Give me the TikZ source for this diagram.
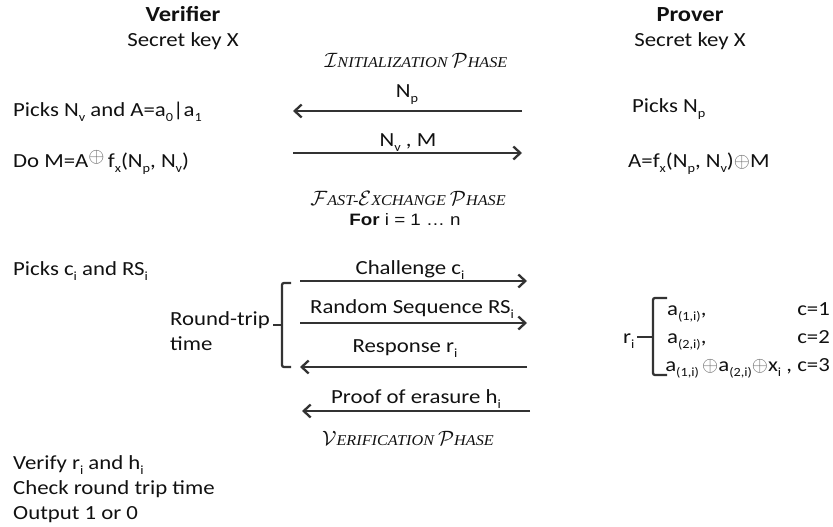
\documentclass[tikz,border=0pt]{standalone}
\usepackage{fontspec}
\usepackage{graphicx}
\setmainfont{Carlito}[FakeStretch=1.14]
\newfontfamily\arialf{Liberation Sans}[FakeStretch=1.14]
\newfontfamily\phasef{Liberation Serif}[FakeStretch=1.08]
\usetikzlibrary{arrows.meta}
\definecolor{txt}{HTML}{111111}
\definecolor{lin}{HTML}{333333}
\newcommand\sbs[1]{\raisebox{-0.28em}{\fontsize{12.5}{13}\selectfont #1}}
\newcommand\bigc[1]{{\fontsize{22.5}{22}\selectfont$\mathcal{#1}$}}
\newcommand\smc[1]{{\phasef\itshape\fontsize{15}{16}\selectfont #1}}
\newcommand\xo{{\color{lin!75}$\oplus$}}
\tikzset{
  every node/.style={inner sep=0pt, text=txt},
  body/.style={font=\fontsize{20}{22}\selectfont},
  head/.style={font=\fontsize{21.5}{22}\selectfont\bfseries},
  lt/.style={body, anchor=base west},
  ctr/.style={body, anchor=base},
  phz/.style={anchor=base},
  msg/.style={draw=lin, line width=2.3pt, -{Straight Barb[length=7pt,width=13pt,line width=2.3pt]}},
  brk/.style={draw=lin, line width=2.3pt, rounded corners=2pt}
}
\begin{document}
\begin{tikzpicture}[x=1pt,y=-1pt]
\useasboundingbox (0,0) rectangle (833,527);
% headers
\node[head, anchor=base] (verif) at (183,22) {Verifier};
\node[ctr] (vkey) at (183,47) {Secret key X};
\node[head, anchor=base] (prov) at (690,22) {Prover};
\node[ctr] (pkey) at (690,47) {Secret key X};
% initialization
\node[phz] (initp) at (416,68) {\bigc{I}\smc{NITIALIZATION }\bigc{P}\smc{HASE}};
\node[ctr] (npl) at (407,97) {N\sbs{p}};
\coordinate (a1s) at (522,111);
\coordinate (a1e) at (293,111);
\draw[msg] (a1s) -- (a1e);
\node[lt] (pnv) at (13,116) {Picks N\sbs{v} and A=a\sbs{0}|a\sbs{1}};
\node[lt] (pnp) at (632,112) {Picks N\sbs{p}};
\node[ctr] (nvml) at (408,146) {N\sbs{v} , M};
\coordinate (a2s) at (293,153);
\coordinate (a2e) at (522,153);
\draw[msg] (a2s) -- (a2e);
\node[lt] (dom) at (13,167) {Do M=A\raisebox{5pt}{\xo}\,f\sbs{x}(N\sbs{p}, N\sbs{v})};
\node[lt] (aeq) at (628,167) {A=f\sbs{x}(N\sbs{p}, N\sbs{v})\xo M};
% fast exchange
\node[phz] (fastp) at (408,205) {\bigc{F}\smc{AST-}\bigc{E}\smc{XCHANGE }\bigc{P}\smc{HASE}};
\node[anchor=base, font=\arialf\fontsize{16.5}{18}\selectfont] (fori) at (405,225) {\textbf{For} i = 1 … n};
\node[lt] (pci) at (13,275) {Picks c\sbs{i} and RS\sbs{i}};
\node[ctr] (chl) at (410,274) {Challenge c\sbs{i}};
\coordinate (a3s) at (300,281);
\coordinate (a3e) at (527,281);
\draw[msg] (a3s) -- (a3e);
\node[ctr] (rsl) at (412,313) {Random Sequence RS\sbs{i}};
\coordinate (a4s) at (300,323);
\coordinate (a4e) at (527,323);
\draw[msg] (a4s) -- (a4e);
\node[ctr] (rspl) at (405,352) {Response r\sbs{i}};
\coordinate (a5s) at (527,367);
\coordinate (a5e) at (300,367);
\draw[msg] (a5s) -- (a5e);
% round trip bracket
\node[lt] (rt1) at (170,325) {Round-trip};
\node[lt] (rt2) at (170,350) {time};
\draw[brk] (291,283) -- (282,283) -- (282,367) -- (291,367);
\draw[brk] (282,325) -- (273,325);
% prover response
\node[lt] (ri) at (623,343) {r\sbs{i}};
\draw[brk] (667,298) -- (653,298) -- (653,375) -- (667,375);
\draw[brk] (653,337) -- (637,337);
\node[lt] (c1) at (667,315) {a\sbs{(1,i)},};
\node[body, anchor=base east] (c1r) at (830,315) {c=1};
\node[lt] (c2) at (667,343) {a\sbs{(2,i)},};
\node[body, anchor=base east] (c2r) at (830,343) {c=2};
\node[body, anchor=base east] (c3) at (830,371) {a\sbs{(1,i)}\,\xo a\sbs{(2,i)}\xo x\sbs{i} , c=3};
% proof
\node[ctr] (prl) at (416,403) {Proof of erasure h\sbs{i}};
\coordinate (a6s) at (530,411);
\coordinate (a6e) at (302,411);
\draw[msg] (a6s) -- (a6e);
% verification
\node[phz] (verp) at (408,445) {\bigc{V}\smc{ERIFICATION }\bigc{P}\smc{HASE}};
\node[lt] (v1) at (13,469) {Verify r\sbs{i} and h\sbs{i}};
\node[lt] (v2) at (13,494) {Check round trip time};
\node[lt] (v3) at (13,519) {Output 1 or 0};
\end{tikzpicture}
\end{document}
